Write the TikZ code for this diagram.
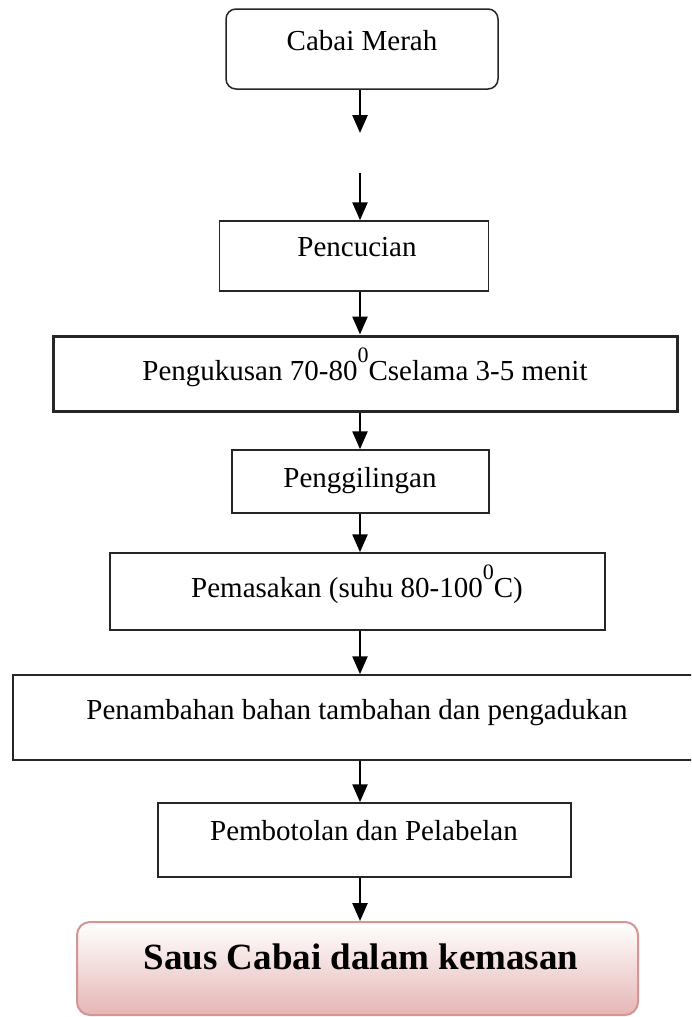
\documentclass[tikz,border=0pt]{standalone}
\usepackage{fontspec}
\setmainfont{Liberation Serif}
\usetikzlibrary{arrows.meta}
\definecolor{sausedge}{RGB}{214,148,146}
\definecolor{sausfill}{RGB}{229,182,181}
\newcommand{\degsup}{\raisebox{18pt}{\fontsize{22}{22}\selectfont 0}}
\begin{document}
\begin{tikzpicture}[x=1pt,y=-1pt,
  box/.style={draw=black!85, line width=1.5pt, inner sep=0pt, rectangle},
  lbl/.style={anchor=base, inner sep=0pt, font=\fontsize{29}{34}\selectfont},
  arr/.style={line width=2.5pt, -{Triangle[length=18pt,width=15pt]}}]
\clip (0,0) rectangle (691,1017);
\fill[white] (0,0) rectangle (691,1017);
% boxes
\node[box, rounded corners=10pt, minimum width=272pt, minimum height=80pt] (b1) at (362,49) {};
\node[box, minimum width=269pt, minimum height=70pt] (b2) at (354,256) {};
\node[box, line width=3pt, minimum width=624pt, minimum height=75pt] (b3) at (365,373.5) {};
\node[box, minimum width=257pt, minimum height=63pt] (b4) at (360.5,481.5) {};
\node[box, minimum width=495pt, minimum height=77pt] (b5) at (357.5,591.5) {};
\node[box, minimum width=700pt, minimum height=85pt] (b6) at (363,717.5) {};
\node[box, minimum width=413pt, minimum height=74pt] (b7) at (364.5,840) {};
\node[draw=sausedge, line width=2pt, rounded corners=13pt, top color=white, bottom color=sausfill,
      inner sep=0pt, minimum width=561pt, minimum height=93pt] (b8) at (357.5,968.5) {};
% labels
\node[lbl] (t1) at (362,50) {Cabai Merah};
\node[lbl] (t2) at (357,256) {Pencucian};
\node[lbl] (t3) at (365,380) {Pengukusan 70-80\degsup Cselama 3-5 menit};
\node[lbl] (t4) at (360,487) {Penggilingan};
\node[lbl] (t5) at (357,597) {Pemasakan (suhu 80-100\degsup C)};
\node[lbl] (t6) at (357,719) {Penambahan bahan tambahan dan pengadukan};
\node[lbl] (t7) at (364,840) {Pembotolan dan Pelabelan};
\node[anchor=base, inner sep=0pt, font=\fontsize{37}{44}\selectfont\bfseries] (t8) at (361,969) {Saus Cabai dalam kemasan};
% arrows
\coordinate (a1) at (360,133);
\coordinate (a2) at (360,173);
\draw[arr] (b1.south -| a1) -- (a1);
\draw[arr] (a2) -- (b2.north -| a2);
\draw[arr] (b2.south -| a1) -- (b3.north -| a1);
\draw[arr] (b3.south -| a1) -- (b4.north -| a1);
\draw[arr] (b4.south -| a1) -- (b5.north -| a1);
\draw[arr] (b5.south -| a1) -- (b6.north -| a1);
\draw[arr] (b6.south -| a1) -- (b7.north -| a1);
\draw[arr] (b7.south -| a1) -- (b8.north -| a1);
\end{tikzpicture}
\end{document}
